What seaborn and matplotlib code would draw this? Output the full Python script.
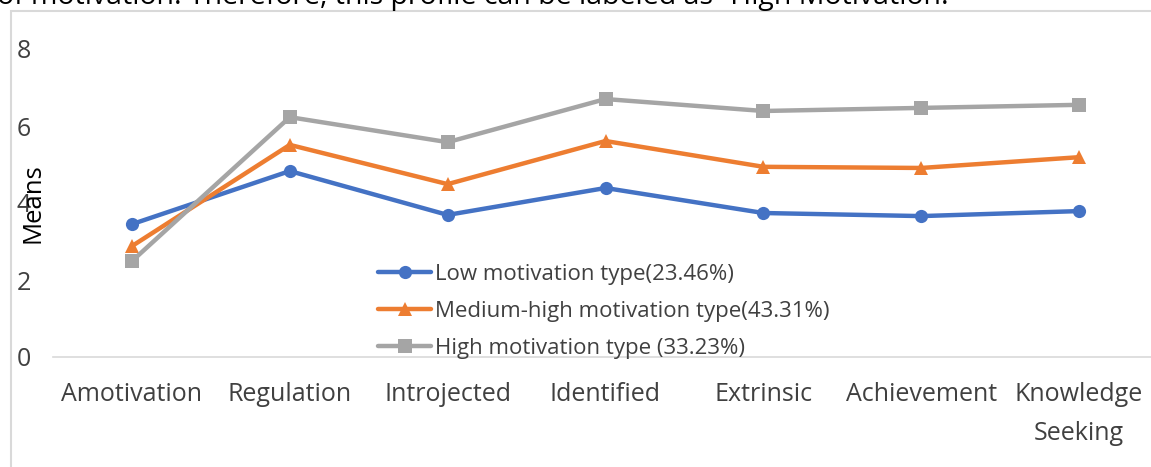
import matplotlib
matplotlib.use("Agg")
import matplotlib.pyplot as plt
import seaborn as sns
import pandas as pd
from matplotlib.patches import Rectangle

# Motivation dimensions and profile means
categories = ["Amotivation", "Regulation", "Introjected", "Identified",
              "Extrinsic", "Achievement", "Knowledge\nSeeking"]
low_means = [3.45, 4.83, 3.69, 4.39, 3.74, 3.66, 3.79]
medium_high_means = [2.88, 5.51, 4.49, 5.61, 4.94, 4.91, 5.19]
high_means = [2.49, 6.23, 5.58, 6.70, 6.39, 6.47, 6.55]
series_names = ["Low motivation type(23.46%)",
                "Medium-high motivation type(43.31%)",
                "High motivation type (33.23%)"]
y_ticks = [0, 2, 4, 6, 8]

rows = []
for name, vals in zip(series_names, [low_means, medium_high_means, high_means]):
    for i, v in enumerate(vals):
        rows.append({"pos": i, "Means": v, "Profile": name})
df = pd.DataFrame(rows)

sns.set_theme(style="white")
plt.rcParams["font.family"] = ["Open Sans", "DejaVu Sans"]

W, H = 1151, 467
fig = plt.figure(figsize=(W / 100, H / 100), dpi=100)

# text line above the chart frame
fig.text(-3 / W, 1 - 4 / H,
         "of motivation. Therefore, this profile can be labeled as \u201cHigh Motivation.\u201d",
         fontsize=20.5, color="black", ha="left", va="baseline")

# chart frame
fig.patches.append(Rectangle((11 / W, -0.1), 1.2, 1.1 - 11 / H,
                             transform=fig.transFigure, fill=False,
                             edgecolor="#d9d9d9", linewidth=1.5))

ax = fig.add_axes([53 / W, 1 - 357 / H, 1105 / W, 308 / H])
palette = {series_names[0]: "#4472C4", series_names[1]: "#ED7D31",
           series_names[2]: "#A5A5A5"}
markers = {series_names[0]: "o", series_names[1]: "^", series_names[2]: "s"}
sns.lineplot(data=df, x="pos", y="Means", hue="Profile", style="Profile",
             palette=palette, markers=markers, dashes=False,
             linewidth=3.2, markersize=9.5, markeredgewidth=0, ax=ax)

ax.set_xlim(-0.5, len(categories) - 0.5)
ax.set_ylim(0, 8)
ax.set_xticks(range(len(categories)))
ax.set_xticklabels(categories, fontsize=18, color="#404040", linespacing=1.75)
ax.set_yticks(y_ticks)
ax.set_yticklabels([str(t) for t in y_ticks], fontsize=18, color="#404040")
ax.tick_params(axis="x", length=0, pad=18)
ax.tick_params(axis="y", length=0, pad=16)
ax.set_xlabel("")
ax.set_ylabel("Means", fontsize=18.5, color="black")
ax.yaxis.set_label_coords(-7 / 1105, 0.5)
for s in ["top", "right", "left"]:
    ax.spines[s].set_visible(False)
ax.spines["bottom"].set_color("#d9d9d9")
ax.spines["bottom"].set_linewidth(1.2)
ax.grid(False)

leg = ax.legend(loc="upper left", bbox_to_anchor=((378 - 53) / 1105, (357 - 264) / 308),
                frameon=False, fontsize=16, handlelength=2.4, handletextpad=0.15,
                labelspacing=0.72, borderaxespad=0, borderpad=0)
for t in leg.get_texts():
    t.set_color("#404040")
for h in leg.legend_handles:
    h.set_linewidth(3.2)

fig.savefig("out.png", dpi=100)
